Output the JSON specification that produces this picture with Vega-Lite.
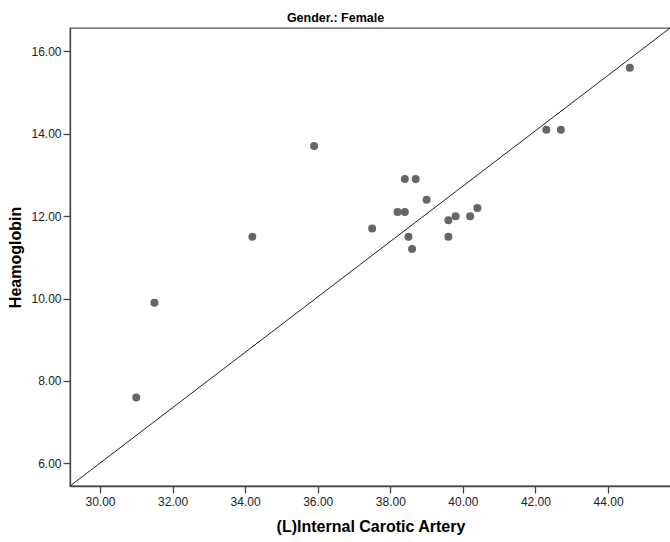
{
  "$schema": "https://vega.github.io/schema/vega-lite/v6.json",
  "width": 601,
  "height": 458,
  "autosize": {"type": "none"},
  "padding": {"left": 70, "top": 28, "right": 0, "bottom": 56},
  "background": "white",
  "title": {
    "text": "Gender.: Female",
    "font": "Liberation Sans",
    "fontSize": 12.5,
    "fontWeight": "bold",
    "color": "#000000",
    "anchor": "middle",
    "dx": -35,
    "offset": 4
  },
  "config": {
    "view": {"stroke": "#555555", "strokeWidth": 1.3},
    "axis": {
      "labelFont": "Liberation Sans",
      "labelFontSize": 12,
      "labelColor": "#222222",
      "titleFont": "Liberation Sans",
      "titleFontSize": 16,
      "titleFontWeight": "bold",
      "titleColor": "#000000",
      "domainColor": "#444444",
      "domainWidth": 1.3,
      "tickColor": "#444444",
      "tickWidth": 1.3,
      "tickSize": 7,
      "grid": false
    }
  },
  "datasets": {
    "points": [
      {"artery": 31.0, "hb": 7.6},
      {"artery": 31.5, "hb": 9.9},
      {"artery": 34.2, "hb": 11.5},
      {"artery": 35.9, "hb": 13.7},
      {"artery": 37.5, "hb": 11.7},
      {"artery": 38.2, "hb": 12.1},
      {"artery": 38.4, "hb": 12.1},
      {"artery": 38.4, "hb": 12.9},
      {"artery": 38.7, "hb": 12.9},
      {"artery": 39.0, "hb": 12.4},
      {"artery": 38.5, "hb": 11.5},
      {"artery": 38.6, "hb": 11.2},
      {"artery": 39.6, "hb": 11.9},
      {"artery": 39.6, "hb": 11.5},
      {"artery": 39.8, "hb": 12.0},
      {"artery": 40.2, "hb": 12.0},
      {"artery": 40.4, "hb": 12.2},
      {"artery": 42.3, "hb": 14.1},
      {"artery": 42.7, "hb": 14.1},
      {"artery": 44.6, "hb": 15.6}
    ],
    "fit": [
      {"artery": 29.174, "hb": 5.45},
      {"artery": 45.735, "hb": 16.585}
    ]
  },
  "layer": [
    {
      "data": {"name": "fit"},
      "mark": {"type": "line", "color": "#222222", "strokeWidth": 1, "clip": true},
      "encoding": {
        "x": {"field": "artery", "type": "quantitative"},
        "y": {"field": "hb", "type": "quantitative"}
      }
    },
    {
      "data": {"name": "points"},
      "mark": {"type": "circle", "size": 64, "color": "#666666", "opacity": 1},
      "encoding": {
        "x": {
          "field": "artery",
          "type": "quantitative",
          "scale": {"domain": [29.174, 45.735], "nice": false, "zero": false},
          "axis": {
            "title": "(L)Internal Carotic Artery",
            "values": [30, 32, 34, 36, 38, 40, 42, 44],
            "format": ".2f",
            "labelPadding": 3,
            "titlePadding": 11
          }
        },
        "y": {
          "field": "hb",
          "type": "quantitative",
          "scale": {"domain": [5.45, 16.567], "nice": false, "zero": false},
          "axis": {
            "title": "Heamoglobin",
            "values": [6, 8, 10, 12, 14, 16],
            "format": ".2f",
            "labelPadding": 2,
            "titlePadding": 7
          }
        }
      }
    }
  ]
}
